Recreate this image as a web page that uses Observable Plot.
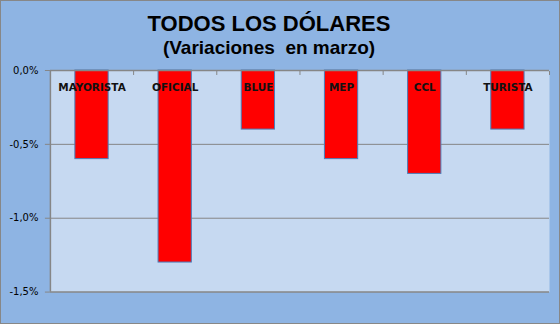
<!DOCTYPE html>
<html>
<head>
<meta charset="utf-8">
<script src="https://cdn.jsdelivr.net/npm/d3@7"></script>
<script src="https://cdn.jsdelivr.net/npm/@observablehq/plot@0.6"></script>
<style>
  html, body { margin: 0; padding: 0; background: #fff; }
  #chart {
    position: relative; width: 560px; height: 324px; box-sizing: border-box;
    background: #8eb4e3; border: 1px solid #878787; overflow: hidden;
  }
  .title, .subtitle {
    position: absolute; left: 0; width: 536px; text-align: center;
    font-family: "Liberation Sans", Arial, sans-serif; font-weight: bold; color: #000;
    white-space: pre;
  }
  .title { top: 10px; font-size: 22px; line-height: 26px; }
  .subtitle { top: 36px; font-size: 19px; line-height: 22px; }
  #plot { position: absolute; left: -1px; top: 61px; }
</style>
</head>
<body>
<div id="chart">
  <div class="title">TODOS LOS DÓLARES</div>
  <div class="subtitle">(Variaciones  en marzo)</div>
  <div id="plot"></div>
</div>
<script>
const categories = ["MAYORISTA", "OFICIAL", "BLUE", "MEP", "CCL", "TURISTA"];
const values = [-0.6, -1.3, -0.4, -0.6, -0.7, -0.4];
const yTicks = [0, -0.5, -1.0, -1.5];
const gridLines = [-0.5, -1.0];

const data = categories.map((c, i) => ({cat: c, i, value: values[i]}));
const boundaries = d3.range(1, categories.length + 1);
const fmt = d => d.toFixed(1).replace(".", ",") + "%";
const gray = "#868686";

const chart = Plot.plot({
  width: 560,
  height: 262,
  marginLeft: 50,
  marginRight: 10,
  marginTop: 8,
  marginBottom: 32,
  style: {background: "none", fontFamily: "DejaVu Sans, Verdana, sans-serif", color: "#000"},
  x: {domain: [0, categories.length], axis: null},
  y: {domain: [-1.5, 0], axis: null},
  marks: [
    Plot.frame({fill: "#c6d9f1", stroke: null}),
    Plot.ruleY(gridLines, {stroke: gray, strokeWidth: 1}),
    Plot.rectY(data, {
      x1: d => d.i, x2: d => d.i + 1, y1: 0, y2: "value",
      insetLeft: 25, insetRight: 25,
      fill: "#ff0000", stroke: "#4a7ebb", strokeWidth: 1
    }),
    Plot.ruleY([0, -1.5], {stroke: gray, strokeWidth: 1.5}),
    Plot.ruleX([0], {stroke: gray, strokeWidth: 1.5}),
    Plot.axisY({
      ticks: yTicks, tickFormat: fmt, tickSize: 5, tickPadding: 7,
      fontSize: 10, stroke: gray, fill: "#000", label: null
    }),
    Plot.axisX({
      anchor: "top", ticks: boundaries, tickFormat: () => "", tickSize: -4,
      stroke: gray, label: null
    }),
    Plot.text(data, {
      x: d => d.i + 0.5, y: 0, text: "cat", dy: 17,
      fontWeight: "bold", fontSize: 10.5, fill: "#111"
    })
  ]
});
document.getElementById("plot").appendChild(chart);
</script>
</body>
</html>
